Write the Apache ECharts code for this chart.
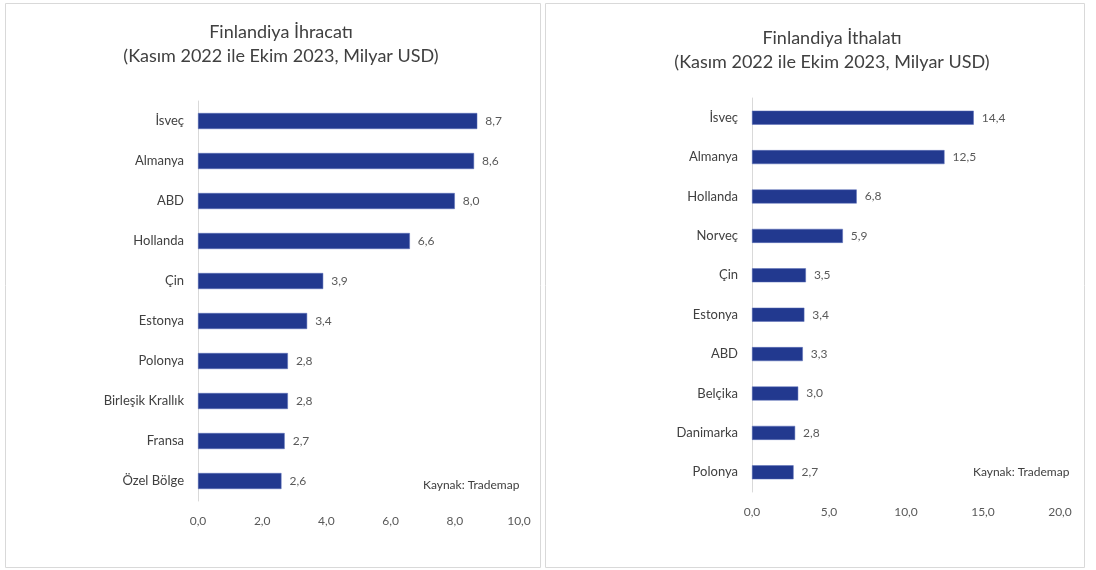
<!DOCTYPE html>
<html>
<head>
<meta charset="utf-8">
<script src="https://cdn.jsdelivr.net/npm/echarts@6/dist/echarts.min.js"></script>
<style>
	html, body { margin: 0; padding: 0; background: #fff; }
	#chart { width: 1096px; height: 570px; }
</style>
</head>
<body>
<div id="chart"></div>
<script>
// ihracat (export) partners
const exportCountries = ['İsveç', 'Almanya', 'ABD', 'Hollanda', 'Çin', 'Estonya', 'Polonya', 'Birleşik Krallık', 'Fransa', 'Özel Bölge']
const exportValues = [8.7, 8.6, 8.0, 6.6, 3.9, 3.4, 2.8, 2.8, 2.7, 2.6]
const exportTicks = [0, 10, 2]

// ithalat (import) partners
const importCountries = ['İsveç', 'Almanya', 'Hollanda', 'Norveç', 'Çin', 'Estonya', 'ABD', 'Belçika', 'Danimarka', 'Polonya']
const importValues = [14.4, 12.5, 6.8, 5.9, 3.5, 3.4, 3.3, 3.0, 2.8, 2.7]
const importTicks = [0, 20, 5]

const FONT = 'Lato, "Open Sans", sans-serif'
const BAR = '#22398f'
const fmt = v => Number(v).toFixed(1).replace('.', ',')

const chart = echarts.init(document.getElementById('chart'))

function valueAxis(idx, ticks) {
	return {
		type: 'value',
		gridIndex: idx,
		min: ticks[0],
		max: ticks[1],
		interval: ticks[2],
		axisLine: { show: false },
		axisTick: { show: false },
		splitLine: { show: false },
		axisLabel: { color: '#595959', fontSize: 12, fontFamily: FONT, margin: 14, formatter: fmt }
	}
}

function catAxis(idx, cats) {
	return {
		type: 'category',
		gridIndex: idx,
		inverse: true,
		data: cats,
		axisLine: { lineStyle: { color: '#d9d9d9', width: 1 } },
		axisTick: { show: false },
		axisLabel: { color: '#404040', fontSize: 13, fontFamily: FONT, margin: 14 }
	}
}

function barSeries(idx, vals, width) {
	return {
		type: 'bar',
		xAxisIndex: idx,
		yAxisIndex: idx,
		data: vals,
		barWidth: width,
		itemStyle: { color: BAR, borderColor: '#5a6fb8', borderWidth: 0.5 },
		label: {
			show: true,
			position: 'right',
			distance: 8,
			color: '#595959',
			fontSize: 12,
			fontFamily: FONT,
			formatter: p => fmt(p.value)
		}
	}
}

const titleStyle = { color: '#404040', fontSize: 18, fontFamily: FONT, fontWeight: 'normal', lineHeight: 24 }

chart.setOption({
	animation: false,
	title: [
		{ text: 'Finlandiya İhracatı\n(Kasım 2022 ile Ekim 2023, Milyar USD)', left: 276, top: 15, textAlign: 'center', textStyle: titleStyle },
		{ text: 'Finlandiya İthalatı\n(Kasım 2022 ile Ekim 2023, Milyar USD)', left: 827, top: 21, textAlign: 'center', textStyle: titleStyle }
	],
	grid: [
		{ left: 198, top: 101, width: 321, height: 400 },
		{ left: 752, top: 98, width: 308, height: 394 }
	],
	xAxis: [valueAxis(0, exportTicks), valueAxis(1, importTicks)],
	yAxis: [catAxis(0, exportCountries), catAxis(1, importCountries)],
	series: [barSeries(0, exportValues, 16), barSeries(1, importValues, 14)],
	graphic: [
		{ type: 'rect', shape: { x: 5.5, y: 3.5, width: 535, height: 564 }, style: { fill: 'none', stroke: '#d9d9d9', lineWidth: 1 }, silent: true },
		{ type: 'rect', shape: { x: 545.5, y: 3.5, width: 539, height: 564 }, style: { fill: 'none', stroke: '#d9d9d9', lineWidth: 1 }, silent: true },
		{ type: 'text', left: 423, top: 479, style: { text: 'Kaynak: Trademap', fill: '#404040', font: '12px ' + FONT } },
		{ type: 'text', left: 973, top: 466, style: { text: 'Kaynak: Trademap', fill: '#404040', font: '12px ' + FONT } }
	]
})
</script>
</body>
</html>
